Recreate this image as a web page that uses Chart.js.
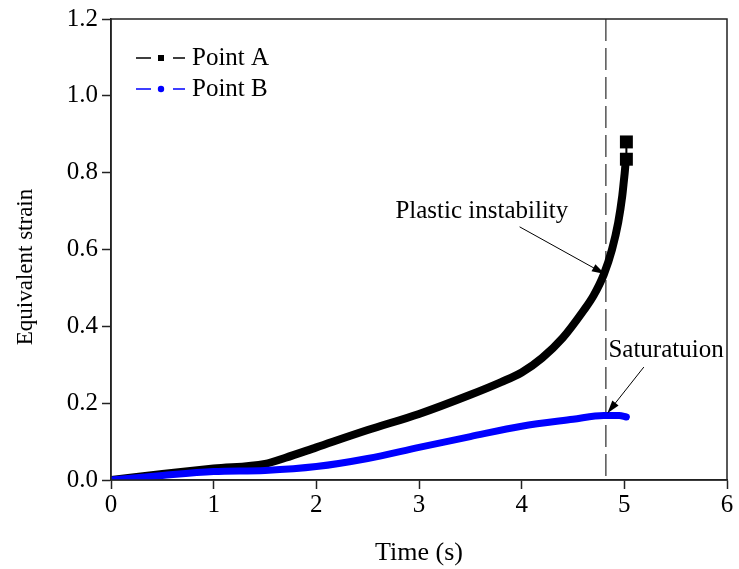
<!DOCTYPE html>
<html>
<head>
<meta charset="utf-8">
<script src="https://cdn.jsdelivr.net/npm/chart.js@4"></script>
<style>
  html, body { margin: 0; padding: 0; background: #fff; }
  #wrap { width: 739px; height: 569px; }
</style>
</head>
<body>
<div id="wrap"><canvas id="strainChart" width="739" height="569"></canvas></div>
<script>
// data
const timeA = [0, 0.5, 1.0, 1.5, 1.7, 2.0, 2.5, 3.0, 3.5, 3.8, 4.0, 4.2, 4.4, 4.6, 4.7, 4.8, 4.88, 4.94, 4.98, 5.0, 5.02, 5.02];
const strainA = [0, 0.016, 0.03, 0.042, 0.058, 0.085, 0.13, 0.172, 0.222, 0.255, 0.28, 0.318, 0.37, 0.44, 0.48, 0.535, 0.6, 0.67, 0.74, 0.79, 0.835, 0.88];
const timeB = [0, 0.5, 1.0, 1.5, 2.0, 2.5, 3.0, 3.5, 4.0, 4.5, 4.8, 4.95, 5.02];
const strainB = [0, 0.012, 0.022, 0.025, 0.035, 0.056, 0.085, 0.113, 0.14, 0.158, 0.168, 0.168, 0.164];
const xTicks = [0, 1, 2, 3, 4, 5, 6];
const yTicks = [0, 0.2, 0.4, 0.6, 0.8, 1.0, 1.2];
const instabilityTime = 4.82;

// annotation text + arrows, in data units
const notes = [
  { text: "Plastic instability", x: 2.77, y: 0.70, from: [3.98, 0.659], to: [4.81, 0.536] },
  { text: "Saturatuion", x: 4.845, y: 0.336, from: [5.19, 0.294], to: [4.835, 0.174] },
];

const serif = "'Liberation Serif', 'Times New Roman', serif";
const lastA = timeA.length - 1;

function toXY(xs, ys) {
  return xs.map((x, i) => ({ x: x, y: ys[i] }));
}

function arrow(ctx, x1, y1, x2, y2) {
  const ang = Math.atan2(y2 - y1, x2 - x1);
  const len = 13, half = 4;
  ctx.strokeStyle = "#000";
  ctx.lineWidth = 1;
  ctx.beginPath();
  ctx.moveTo(x1, y1);
  ctx.lineTo(x2 - Math.cos(ang) * len * 0.8, y2 - Math.sin(ang) * len * 0.8);
  ctx.stroke();
  ctx.fillStyle = "#000";
  ctx.beginPath();
  ctx.moveTo(x2, y2);
  ctx.lineTo(x2 - Math.cos(ang) * len - Math.sin(ang) * half, y2 - Math.sin(ang) * len + Math.cos(ang) * half);
  ctx.lineTo(x2 - Math.cos(ang) * len + Math.sin(ang) * half, y2 - Math.sin(ang) * len - Math.cos(ang) * half);
  ctx.closePath();
  ctx.fill();
}

// frame, dashed marker line, notes, y title and legend
const decorations = {
  id: "decorations",
  beforeDatasetsDraw(chart) {
    const { ctx, chartArea: a, scales } = chart;
    const px = scales.x.getPixelForValue(instabilityTime);
    ctx.save();
    ctx.strokeStyle = "#555";
    ctx.lineWidth = 1.5;
    ctx.setLineDash([22, 7]);
    ctx.beginPath();
    ctx.moveTo(px, a.top);
    ctx.lineTo(px, a.bottom);
    ctx.stroke();
    ctx.restore();
  },
  afterDatasetsDraw(chart) {
    const { ctx, chartArea: a, scales } = chart;
    const sx = scales.x, sy = scales.y;
    ctx.save();
    ctx.strokeStyle = "#222";
    ctx.lineWidth = 1.5;
    ctx.strokeRect(a.left, a.top, a.right - a.left, a.bottom - a.top);

    ctx.font = "25px " + serif;
    ctx.textBaseline = "middle";
    ctx.textAlign = "left";
    ctx.fillStyle = "#000";
    notes.forEach(n => {
      ctx.fillText(n.text, sx.getPixelForValue(n.x), sy.getPixelForValue(n.y));
      arrow(ctx, sx.getPixelForValue(n.from[0]), sy.getPixelForValue(n.from[1]),
        sx.getPixelForValue(n.to[0]), sy.getPixelForValue(n.to[1]));
    });

    // legend
    const rows = [
      { label: "Point A", color: "#000", square: true, y: a.top + 39 },
      { label: "Point B", color: "#0000ff", square: false, y: a.top + 70 },
    ];
    rows.forEach(r => {
      const x0 = a.left + 25;
      ctx.strokeStyle = r.color;
      ctx.lineWidth = 1.5;
      ctx.beginPath();
      ctx.moveTo(x0, r.y); ctx.lineTo(x0 + 15, r.y);
      ctx.moveTo(x0 + 37, r.y); ctx.lineTo(x0 + 49, r.y);
      ctx.stroke();
      ctx.fillStyle = r.color;
      if (r.square) {
        ctx.fillRect(x0 + 22, r.y - 3, 6, 6);
      } else {
        ctx.beginPath();
        ctx.arc(x0 + 25, r.y, 3.2, 0, Math.PI * 2);
        ctx.fill();
      }
      ctx.fillStyle = "#000";
      ctx.fillText(r.label, x0 + 56, r.y);
    });

    // y axis title, sits a bit below the centre like the original
    ctx.translate(26, 267);
    ctx.rotate(-Math.PI / 2);
    ctx.textAlign = "center";
    ctx.font = "23px " + serif;
    ctx.fillText("Equivalent strain", 0, 0);
    ctx.restore();
  },
};

const ctx = document.getElementById("strainChart").getContext("2d");

const strainChart = new Chart(ctx, {
  type: "line",
  data: {
    datasets: [
      {
        label: "Point A",
        data: toXY(timeA, strainA),
        borderColor: "#000",
        backgroundColor: "#000",
        borderWidth: 8,
        pointStyle: "rect",
        pointRadius: (c) => (c.dataIndex >= lastA - 1 ? 3.5 : 0),
        segment: {
          borderWidth: (c) => (c.p1DataIndex >= lastA ? 2 : 8),
        },
        cubicInterpolationMode: "monotone",
        borderCapStyle: "butt",
        order: 2,
      },
      {
        label: "Point B",
        data: toXY(timeB, strainB),
        borderColor: "#0000ff",
        backgroundColor: "#0000ff",
        borderWidth: 7,
        pointRadius: 0,
        cubicInterpolationMode: "monotone",
        borderCapStyle: "round",
        order: 1,
      },
    ],
  },
  options: {
    responsive: false,
    animation: false,
    events: [],
    layout: {
      padding: { top: 19, right: 9, left: 0, bottom: 0 },
    },
    plugins: {
      legend: { display: false },
      tooltip: { enabled: false },
    },
    scales: {
      x: {
        type: "linear",
        min: 0,
        max: 6,
        afterBuildTicks: (scale) => {
          scale.ticks = xTicks.map(v => ({ value: v }));
        },
        afterFit: (scale) => {
          scale.height = 89;
          scale.paddingLeft = 0;
          scale.paddingRight = 0;
        },
        ticks: {
          color: "#000",
          font: { family: serif, size: 25 },
          padding: 1,
          callback: (v) => String(v),
        },
        grid: {
          drawOnChartArea: false,
          tickLength: 9,
          color: "#222",
          tickWidth: 1.5,
        },
        border: { color: "#222", width: 1.5 },
        title: {
          display: true,
          text: "Time (s)",
          color: "#000",
          font: { family: serif, size: 26 },
          padding: { top: 2, bottom: 0 },
        },
      },
      y: {
        type: "linear",
        min: 0,
        max: 1.2,
        afterBuildTicks: (scale) => {
          scale.ticks = yTicks.map(v => ({ value: v }));
        },
        afterFit: (scale) => {
          scale.width = 111;
        },
        ticks: {
          color: "#000",
          font: { family: serif, size: 25 },
          padding: 4,
          callback: (v) => Number(v).toFixed(1),
        },
        grid: {
          drawOnChartArea: false,
          tickLength: 9,
          color: "#222",
          tickWidth: 1.5,
        },
        border: { color: "#222", width: 1.5 },
        title: { display: false },
      },
    },
  },
  plugins: [decorations],
});
</script>
</body>
</html>
